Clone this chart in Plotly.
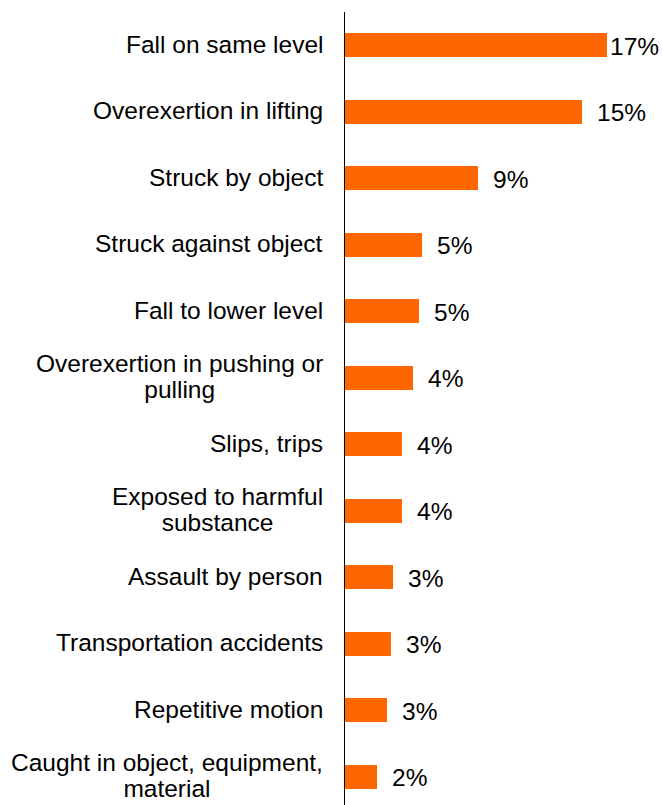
import plotly.graph_objects as go

# Injury event categories (top to bottom) and their share of cases, in percent
categories = [
    "Fall on same level",
    "Overexertion in lifting",
    "Struck by object",
    "Struck against object",
    "Fall to lower level",
    "Overexertion in pushing or<br>pulling",
    "Slips, trips",
    "Exposed to harmful<br>substance",
    "Assault by person",
    "Transportation accidents",
    "Repetitive motion",
    "Caught in object, equipment,<br>material",
]
shares = [17.0, 15.4, 8.6, 5.0, 4.8, 4.4, 3.7, 3.7, 3.1, 3.0, 2.7, 2.1]

BAR_COLOR = "#FF6600"
FONT = "Liberation Sans, Arial, sans-serif"
LABEL_SIZE = 24.5

fig = go.Figure(
    go.Bar(
        x=shares,
        y=categories,
        orientation="h",
        marker=dict(color=BAR_COLOR, line=dict(width=0)),
        width=0.361,
        hoverinfo="skip",
    )
)


def sized(text):
    # wrap every line in a span so the glyphs are larger than the line pitch
    return "<br>".join(
        f"<span style='font-size:{LABEL_SIZE}px'>{part}</span>" for part in text.split("<br>")
    )


annotations = []
for cat in categories:
    annotations.append(
        dict(
            text=sized(cat),
            xref="paper", x=0, xanchor="right", xshift=-20,
            yref="y", y=cat, yanchor="middle", yshift=1,
            align="center",
            showarrow=False,
            font=dict(family=FONT, size=20, color="#000000"),
        )
    )

top = max(shares)
for cat, v in zip(categories, shares):
    annotations.append(
        dict(
            text=f"{v:.0f}%",
            xref="x", x=v, xanchor="left", xshift=1 if v == top else 13,
            yref="y", y=cat, yanchor="middle", yshift=-1,
            showarrow=False,
            font=dict(family=FONT, size=LABEL_SIZE, color="#000000"),
        )
    )

fig.update_layout(
    width=662,
    height=805,
    margin=dict(l=345, r=0, t=12, b=0, pad=0),
    paper_bgcolor="white",
    plot_bgcolor="white",
    showlegend=False,
    bargap=0,
    annotations=annotations,
    font=dict(family=FONT, size=LABEL_SIZE, color="#000000"),
)
fig.update_xaxes(visible=False, range=[0, 20.57], fixedrange=True)
fig.update_yaxes(
    type="category",
    categoryorder="array",
    categoryarray=categories,
    range=[11.425, -0.5],
    showticklabels=False,
    ticks="",
    showgrid=False,
    zeroline=False,
    showline=True,
    linecolor="#000000",
    linewidth=1,
    fixedrange=True,
)

fig.write_html("out.html", config={"displayModeBar": False})
